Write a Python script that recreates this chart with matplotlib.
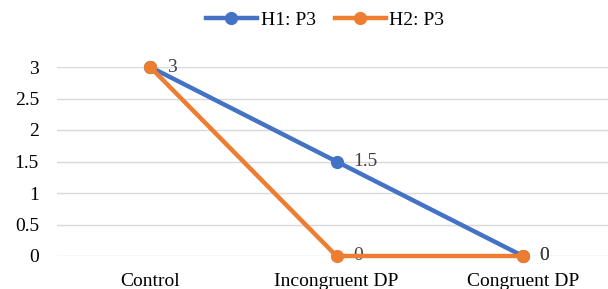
import matplotlib.pyplot as plt

# datos
categorias = ['Control', 'Incongruent DP', 'Congruent DP']
h1_p3 = [3, 1.5, 0]
h2_p3 = [3, 0, 0]
etiquetas_h1 = ['3', '1.5', '0']
etiquetas_h2 = ['', '0', '0']

plt.rcParams['font.family'] = ['Liberation Serif', 'DejaVu Serif']

fig = plt.figure(figsize=(6.08, 2.89), dpi=100)
ax = fig.add_axes([57 / 608, 33 / 289, (616 - 57) / 608, 189 / 289])

x = range(len(categorias))
azul = '#4472C4'
naranja = '#ED7D31'

ax.plot(x, h1_p3, color=azul, lw=3.2, marker='o', ms=8.5, label='H1: P3', clip_on=False, zorder=3)
ax.plot(x, h2_p3, color=naranja, lw=3.2, marker='o', ms=8.5, label='H2: P3', clip_on=False, zorder=4)

# etiquetas de datos
for i, v in enumerate(h1_p3):
    ax.annotate(etiquetas_h1[i], (i, v), xytext=(12, 0), textcoords='offset points',
                va='center', ha='left', fontsize=14, color='#404040')
for i, v in enumerate(h2_p3):
    if etiquetas_h2[i]:
        ax.annotate(etiquetas_h2[i], (i, v), xytext=(12, 0), textcoords='offset points',
                    va='center', ha='left', fontsize=14, color='#404040')

ax.set_xlim(-0.5, 2.5)
ax.set_ylim(0, 3)
ax.set_yticks([0, 0.5, 1, 1.5, 2, 2.5, 3])
ax.set_yticklabels(['0', '0.5', '1', '1.5', '2', '2.5', '3'])
ax.set_xticks(list(x))
ax.set_xticklabels(categorias)
ax.tick_params(axis='both', length=0, labelsize=14, colors='black')
ax.tick_params(axis='y', pad=13)
ax.tick_params(axis='x', pad=12)
ax.grid(axis='y', color='#D9D9D9', lw=1)
ax.set_axisbelow(True)
for s in ax.spines.values():
    s.set_visible(False)

fig.legend(loc='center', bbox_to_anchor=(0.535, 1 - 20 / 289), ncol=2, frameon=False,
           fontsize=14, handlelength=2.6, columnspacing=1.0, handletextpad=0.2)

fig.savefig('out.png', dpi=100)
